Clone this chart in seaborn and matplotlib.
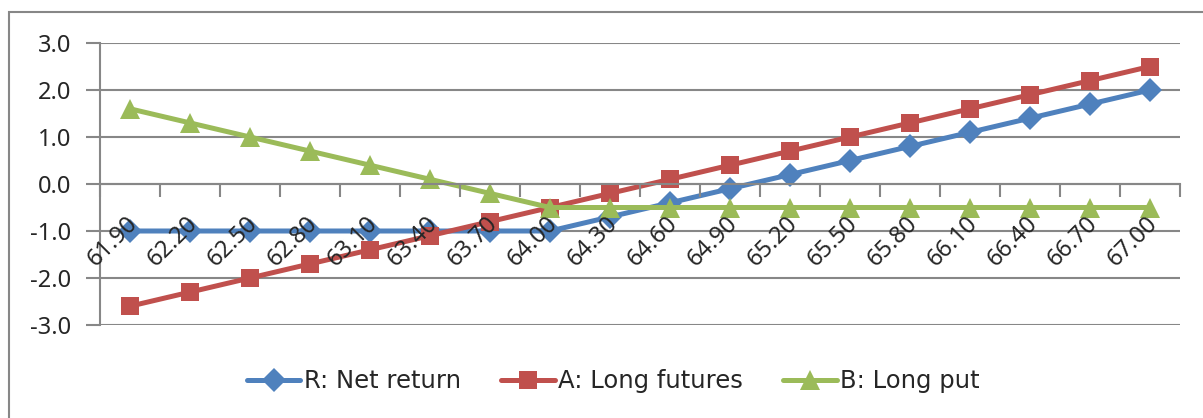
import numpy as np
import pandas as pd
import matplotlib
matplotlib.use("Agg")
import matplotlib.pyplot as plt
from matplotlib.patches import Rectangle
from matplotlib.transforms import ScaledTranslation
import seaborn as sns

prices = ["61.90", "62.20", "62.50", "62.80", "63.10", "63.40", "63.70", "64.00", "64.30",
          "64.60", "64.90", "65.20", "65.50", "65.80", "66.10", "66.40", "66.70", "67.00"]
net_return   = [-1.0, -1.0, -1.0, -1.0, -1.0, -1.0, -1.0, -1.0, -0.7,
                -0.4, -0.1, 0.2, 0.5, 0.8, 1.1, 1.4, 1.7, 2.0]
long_futures = [-2.6, -2.3, -2.0, -1.7, -1.4, -1.1, -0.8, -0.5, -0.2,
                0.1, 0.4, 0.7, 1.0, 1.3, 1.6, 1.9, 2.2, 2.5]
long_put     = [1.6, 1.3, 1.0, 0.7, 0.4, 0.1, -0.2, -0.5, -0.5,
                -0.5, -0.5, -0.5, -0.5, -0.5, -0.5, -0.5, -0.5, -0.5]
series_names = ["R: Net return", "A: Long futures", "B: Long put"]
y_ticks = [-3.0, -2.0, -1.0, 0.0, 1.0, 2.0, 3.0]

sns.set_style("white")
plt.rcParams["font.family"] = ["Noto Sans", "DejaVu Sans"]

pos = np.arange(len(prices))
df = pd.DataFrame({"pos": np.tile(pos, 3),
                   "value": net_return + long_futures + long_put,
                   "series": np.repeat(series_names, len(prices))})

colors  = {"R: Net return": "#4F81BD", "A: Long futures": "#C0504D", "B: Long put": "#9BBB59"}
markers = {"R: Net return": "D", "A: Long futures": "s", "B: Long put": "^"}
msizes  = {"R: Net return": 12.5, "A: Long futures": 13, "B: Long put": 15}
grid_c  = "#878787"

fig = plt.figure(figsize=(12.03, 4.18), dpi=100)
ax = fig.add_axes([100/1203, 1 - 325/418, 1080/1203, 282/418])

# gridlines under the series, tick labels above them
for v in y_ticks:
    ax.axhline(v, color=grid_c, lw=1.5, zorder=0.5)

for name in series_names:
    sub = df[df["series"] == name]
    sns.lineplot(data=sub, x="pos", y="value", ax=ax, color=colors[name], lw=3.6,
                 marker=markers[name], markersize=msizes[name], markeredgewidth=0,
                 label=name, zorder=2)

ax.set_axisbelow(False)
ax.set_xlim(-0.5, len(prices) - 0.5)
ax.set_ylim(-3, 3)
ax.set_yticks(y_ticks)
ax.set_yticklabels([f"{v:.1f}" for v in y_ticks], fontsize=17)
ax.grid(False)
ax.tick_params(axis="y", length=10, width=1.5, color=grid_c, pad=11, left=True)

# x axis sits at y = 0, ticks between categories, labels at centres
for s in ["top", "right"]:
    ax.spines[s].set_visible(False)
ax.spines["left"].set_color(grid_c)
ax.spines["left"].set_linewidth(1.5)
ax.spines["bottom"].set_position(("data", 0))
ax.spines["bottom"].set_color(grid_c)
ax.spines["bottom"].set_linewidth(1.5)
ax.set_xticks(np.arange(-0.5, len(prices), 1.0))
ax.set_xticklabels([])
ax.tick_params(axis="x", which="major", length=9, width=1.5, color=grid_c, bottom=True)
ax.set_xticks(pos, minor=True)
ax.set_xticklabels(prices, minor=True, rotation=45, ha="right", va="top",
                   rotation_mode="anchor", fontsize=17)
ax.tick_params(axis="x", which="minor", length=0, pad=20)
shift = ScaledTranslation(-4/100, 0, fig.dpi_scale_trans)
for lbl in ax.get_xticklabels(minor=True):
    lbl.set_transform(lbl.get_transform() + shift)
ax.set_xlabel("")
ax.set_ylabel("")

leg = ax.legend(loc="center", bbox_to_anchor=(0.510, 0.0885), bbox_transform=fig.transFigure,
                ncol=3, frameon=False, prop={"family": "DejaVu Sans", "size": 17.5},
                handlelength=2.2, handletextpad=0.15, columnspacing=1.65)

fig.patches.append(Rectangle((8.5/1203, -0.1), 1.2, 1 - 12/418 + 0.1, transform=fig.transFigure,
                             fill=False, edgecolor=grid_c, lw=1.5, figure=fig))

fig.savefig("out.png", dpi=100)
